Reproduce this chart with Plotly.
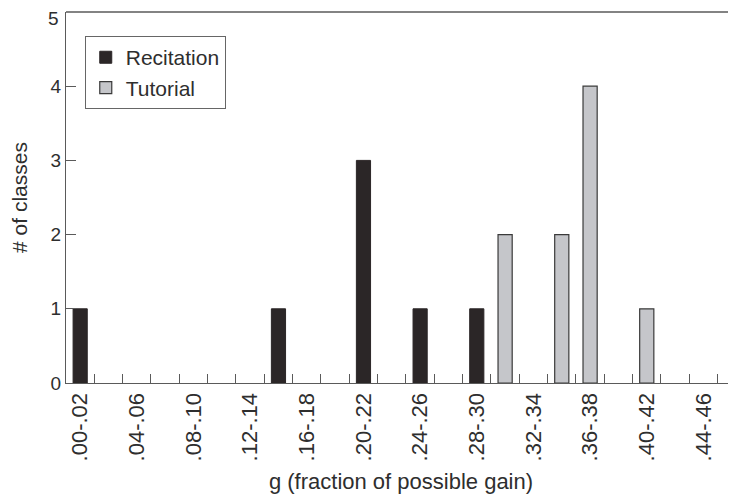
import plotly.graph_objects as go

# 23 bins of g (fraction of possible gain)
bins = [".00-.02", ".02-.04", ".04-.06", ".06-.08", ".08-.10", ".10-.12",
        ".12-.14", ".14-.16", ".16-.18", ".18-.20", ".20-.22", ".22-.24",
        ".24-.26", ".26-.28", ".28-.30", ".30-.32", ".32-.34", ".34-.36",
        ".36-.38", ".38-.40", ".40-.42", ".42-.44", ".44-.46"]
recitation = [1, 0, 0, 0, 0, 0, 0, 1, 0, 0, 3, 0, 1, 0, 1, 0, 0, 0, 0, 0, 0, 0, 0]
tutorial = [0, 0, 0, 0, 0, 0, 0, 0, 0, 0, 0, 0, 0, 0, 0, 2, 0, 2, 4, 0, 1, 0, 0]
tick_labels = [b if i % 2 == 0 else "" for i, b in enumerate(bins)]
y_ticks = [0, 1, 2, 3, 4, 5]

FONT = "Liberation Sans, Arial, Helvetica, sans-serif"
TXT = "#2e2e2e"
AX = "#5a5a5a"

def nz(xs, ys):
    pairs = [(x, y) for x, y in zip(xs, ys) if y]
    return [p[0] for p in pairs], [p[1] for p in pairs]

rx, ry = nz(bins, recitation)
tx, ty = nz(bins, tutorial)

fig = go.Figure()
fig.add_trace(go.Bar(x=rx, y=ry, name="Recitation", width=0.5,
                     marker=dict(color="#2b2627", line=dict(color="#2b2627", width=1))))
fig.add_trace(go.Bar(x=tx, y=ty, name="Tutorial", width=0.5,
                     marker=dict(color="#c5c6ca", line=dict(color="#3a3a3a", width=1.2))))

# top tick label sits just below the frame (as in the reference)
y_ticktext = [str(v) for v in y_ticks[:-1]] + [""]

fig.update_layout(
    width=728, height=487,
    margin=dict(l=58, r=0, t=4, b=112, autoexpand=False),
    paper_bgcolor="white", plot_bgcolor="white",
    barmode="overlay",
    font=dict(family=FONT, color=TXT, size=21),
    showlegend=True,
    legend=dict(x=0.028, y=0.935, xanchor="left", yanchor="top",
                bordercolor="#666666", borderwidth=1, bgcolor="white",
                font=dict(size=21, color=TXT), tracegroupgap=4),
    xaxis=dict(type="category", categoryorder="array", categoryarray=bins,
               tickmode="array", tickvals=bins, ticktext=tick_labels,
               range=[-0.5, 23.15], tickson="boundaries", automargin=False,
               ticks="inside", ticklen=9, tickcolor=AX, tickwidth=1.2,
               tickangle=-90, tickfont=dict(size=22, color=TXT),
               showline=True, linecolor=AX, linewidth=1.3,
               showgrid=False, zeroline=False,
               title=dict(text="g (fraction of possible gain)", standoff=13,
                          font=dict(size=22, color=TXT))),
    yaxis=dict(range=[0, 5], tickmode="array", tickvals=y_ticks, ticktext=y_ticktext,
               automargin=False,
               ticks="inside", ticklen=10, tickcolor=AX, tickwidth=1.2,
               tickfont=dict(size=19, color=TXT),
               showline=True, linecolor=AX, linewidth=1.3,
               showgrid=False, zeroline=False,
               title=dict(text="# of classes", standoff=18,
                          font=dict(size=21, color=TXT))),
)
fig.add_annotation(text=str(y_ticks[-1]), xref="paper", yref="y", x=0, y=y_ticks[-1],
                   xanchor="right", yanchor="middle", xshift=-5, yshift=-6,
                   showarrow=False, font=dict(size=19, color=TXT, family=FONT))
fig.add_shape(type="line", xref="paper", yref="paper", x0=0, x1=1, y0=1, y1=1,
              line=dict(color=AX, width=1.3))

fig.write_html("out.html")
